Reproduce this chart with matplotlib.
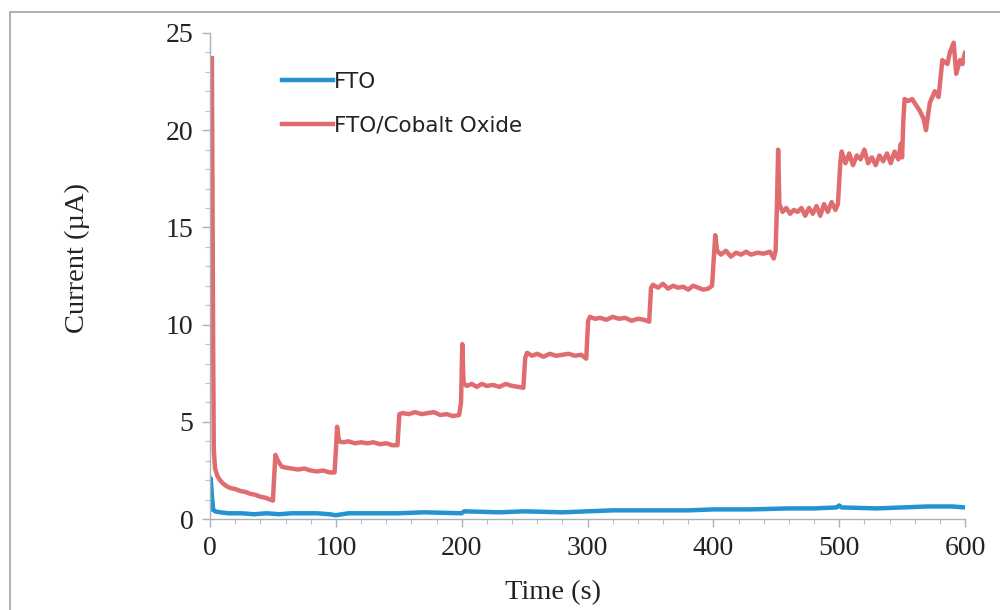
import matplotlib
matplotlib.use("Agg")
import matplotlib.pyplot as plt
from matplotlib.patches import Rectangle
from matplotlib.ticker import MultipleLocator

# FTO (blue) series
fto_t = [0, 0.5, 1.5, 2.5, 4, 8, 15, 25, 35, 45, 55, 65, 75, 85, 95, 100, 110, 130, 150,
         170, 200, 202, 230, 250, 280, 300, 320, 350, 380, 400, 430, 460, 480, 498, 500,
         502, 530, 550, 570, 590, 600]
fto_i = [0.5, 2.1, 1.2, 0.5, 0.4, 0.35, 0.3, 0.3, 0.25, 0.3, 0.25, 0.3, 0.3, 0.3, 0.25,
         0.2, 0.3, 0.3, 0.3, 0.35, 0.3, 0.4, 0.35, 0.4, 0.35, 0.4, 0.45, 0.45, 0.45, 0.5,
         0.5, 0.55, 0.55, 0.6, 0.7, 0.6, 0.55, 0.6, 0.65, 0.65, 0.6]

# FTO/Cobalt Oxide (red) series
co_t = [1.5, 2.5, 3, 4, 6, 8, 10, 13, 16, 20, 24, 28, 32, 36, 40, 44, 48, 50,
        51, 52, 54, 57, 60, 65, 70, 75, 80, 85, 90, 95, 99,
        100, 101, 102.5, 106, 110, 115, 120, 125, 130, 135, 140, 145, 149,
        150.5, 153, 158, 163, 168, 173, 178, 183, 188, 193, 198,
        199.5, 200.5, 201.5, 204, 208, 212, 216, 220, 225, 230, 235, 240, 245, 249,
        250.5, 252, 256, 260, 265, 270, 275, 280, 285, 290, 295, 299,
        300.5, 302, 306, 310, 315, 320, 325, 330, 335, 340, 345, 349,
        350.5, 352, 356, 360, 364, 368, 372, 376, 380, 384, 388, 392, 396, 399,
        400.5, 401.5, 403, 406, 410, 414, 418, 422, 426, 430, 435, 440, 445, 448, 449.5,
        450.5, 451.5, 452.5, 455, 458, 461, 464, 467, 470, 473, 476, 479, 482, 485, 488,
        491, 494, 497, 499,
        501, 502, 505, 508, 511, 514, 517, 520, 523, 526, 529, 532, 535, 538, 541, 544,
        547, 549, 550,
        551, 552, 555, 558, 561, 564, 567, 569, 572, 576, 579, 582, 586, 588, 591, 593,
        596, 598, 600, 602]
co_i = [23.7, 9.0, 3.6, 2.6, 2.2, 2.0, 1.85, 1.7, 1.6, 1.55, 1.45, 1.4, 1.3, 1.25, 1.15, 1.1, 1.0, 0.95,
        2.2, 3.3, 3.0, 2.7, 2.65, 2.6, 2.55, 2.6, 2.5, 2.45, 2.5, 2.4, 2.4,
        3.5, 4.75, 4.0, 3.95, 4.0, 3.9, 3.95, 3.9, 3.95, 3.85, 3.9, 3.8, 3.8,
        5.4, 5.45, 5.4, 5.5, 5.4, 5.45, 5.5, 5.35, 5.4, 5.3, 5.35,
        6.0, 9.0, 7.0, 6.85, 6.95, 6.8, 6.95, 6.85, 6.9, 6.8, 6.95, 6.85, 6.8, 6.75,
        8.3, 8.55, 8.4, 8.5, 8.35, 8.5, 8.4, 8.45, 8.5, 8.4, 8.45, 8.25,
        10.2, 10.4, 10.3, 10.35, 10.25, 10.4, 10.3, 10.35, 10.2, 10.3, 10.25, 10.15,
        11.9, 12.05, 11.9, 12.1, 11.85, 12.0, 11.9, 11.95, 11.8, 12.0, 11.9, 11.8, 11.85, 12.0,
        13.6, 14.6, 13.8, 13.6, 13.8, 13.5, 13.7, 13.6, 13.75, 13.6, 13.7, 13.65, 13.75, 13.4, 13.8,
        16.0, 19.0, 16.2, 15.8, 16.0, 15.7, 15.9, 15.8, 16.0, 15.6, 16.0, 15.7, 16.1, 15.6, 16.2,
        15.8, 16.3, 15.9, 16.2,
        18.4, 18.9, 18.3, 18.8, 18.2, 18.7, 18.5, 19.0, 18.3, 18.6, 18.2, 18.7, 18.4, 18.8, 18.3, 18.9,
        18.5, 19.3, 18.6,
        20.5, 21.6, 21.5, 21.6, 21.3, 21.0, 20.6, 20.0, 21.4, 22.0, 21.7, 23.6, 23.4, 24.0, 24.5, 22.9,
        23.6, 23.4, 24.0, 23.8]

x_ticks = [0, 100, 200, 300, 400, 500, 600]
y_ticks = [0, 5, 10, 15, 20, 25]

BLUE = "#2393d3"
RED = "#e06c70"
SERIF = "Liberation Serif"

fig = plt.figure(figsize=(10, 6.1), dpi=100)
fig.patch.set_facecolor("white")
fig.patches.append(Rectangle((0.010, -0.1), 1.2, 1.08, transform=fig.transFigure,
                             fill=False, edgecolor="#9aa6b4", linewidth=1.2))

ax = fig.add_axes([0.21, 0.149, 0.755, 0.797])
ax.plot(fto_t, fto_i, color=BLUE, lw=3.2, label="FTO", solid_joinstyle="round")
ax.plot(co_t, co_i, color=RED, lw=3.2, label="FTO/Cobalt Oxide", solid_joinstyle="round")

ax.set_xlim(0, 600)
ax.set_ylim(0, 25)
ax.set_xticks(x_ticks)
ax.set_yticks(y_ticks)
ax.xaxis.set_minor_locator(MultipleLocator(20))
ax.yaxis.set_minor_locator(MultipleLocator(1))
for s in ["top", "right"]:
    ax.spines[s].set_visible(False)
for s in ["left", "bottom"]:
    ax.spines[s].set_color("#a8b0ba")
    ax.spines[s].set_linewidth(1.0)
ax.tick_params(which="major", length=6, width=1, color="#a8b0ba", pad=6)
ax.tick_params(which="minor", length=3.5, width=0.8, color="#b8c0c8")
for lab in ax.get_xticklabels() + ax.get_yticklabels():
    lab.set_fontfamily(SERIF)
    lab.set_fontsize(20)
    lab.set_color("#222222")

ax.set_xlabel("Time (s)", fontfamily=SERIF, fontsize=20.5, color="#222222")
ax.set_ylabel("Current (µA)", fontfamily=SERIF, fontsize=20.5, color="#222222")
ax.xaxis.set_label_coords(0.454, -0.126)
ax.yaxis.set_label_coords(-0.159, 0.537)

leg = ax.legend(loc="upper left", bbox_to_anchor=(0.084, 0.938), frameon=False,
                prop={"family": "DejaVu Sans", "size": 15.5}, handlelength=2.35,
                handletextpad=0.05, labelspacing=1.1, borderaxespad=0)
for t in leg.get_texts():
    t.set_color("#222222")

fig.savefig("out.png", dpi=100, facecolor="white")
